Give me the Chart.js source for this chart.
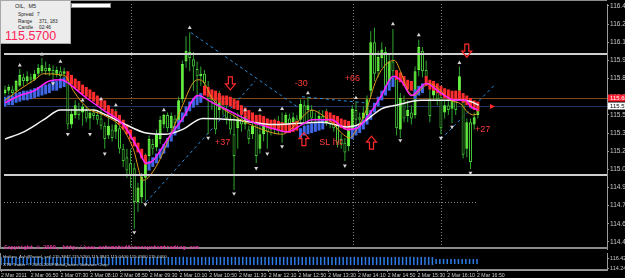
<!DOCTYPE html>
<html>
<head>
<meta charset="utf-8">
<script src="https://cdn.jsdelivr.net/npm/chart.js@4.4.1/dist/chart.umd.min.js"></script>
<style>
html, body { margin: 0; padding: 0; background: #000; }
#wrap { position: relative; width: 625px; height: 278px; overflow: hidden; background: #000; font-family: "Liberation Sans", Arial, sans-serif; }
canvas { position: absolute; left: 0; }
#main { top: 0; }
#panel { top: 253px; }
.info { position: absolute; left: 0; top: 0; width: 69px; height: 42px; background: #ececec; border: 1px solid #a8a8a8; color: #1c1c1c; z-index: 3; }
.info span { position: absolute; white-space: nowrap; font-size: 4.8px; line-height: 5px; }
.info .sym { left: 14px; top: 3px; font-size: 5.5px; }
.info .big { left: 4px; top: 29px; font-size: 12.5px; line-height: 12px; color: #ff2458; }
.bar { position: absolute; left: 71px; top: 3px; width: 38px; height: 3px; background: #fff; border: 1px solid #8a8a8a; z-index: 3; }
.copy { position: absolute; left: 4px; top: 244px; font: bold 5.4px "DejaVu Sans Mono", monospace; color: #e0309a; white-space: nowrap; z-index: 3; }
.ptext { position: absolute; left: 3px; font-size: 4.4px; color: #cfcfcf; white-space: nowrap; z-index: 3; }
</style>
</head>
<body>
<div id="wrap">
  <canvas id="main" width="625" height="253"></canvas>
  <canvas id="panel" width="625" height="25"></canvas>
  <div class="info">
    <span class="sym">OIL,&nbsp; M5</span>
    <span style="left:17px;top:11px">Spread</span><span style="left:36px;top:11px">7</span>
    <span style="left:17px;top:18px">Range</span><span style="left:38px;top:18px">371, 183</span>
    <span style="left:17px;top:24px">Candle</span><span style="left:38px;top:24px">02:46</span>
    <span class="big">115.5700</span>
  </div>
  <div class="bar"></div>
  <div class="copy">Copyright © 2009, http://www.automatedforexsystemtrading.com</div>
  <div class="ptext" style="top:254px">Heiken_Ashi(Period_set) 115.3842 115.5200 115.3842 115.0400 115.0900 115.0400</div>
  <div class="ptext" style="top:262px">XTB Trader: © 2001-2009 MetaQuotes Software Corp.</div>
</div>
<script>
// OIL M5, 2 Mar 2011 - one entry per bar (index 0 = 06:10)
const candleOpen = [
  115.68,115.70,115.71,115.70,115.74,115.81,115.78,115.81,115.79,115.84,
  115.86,115.89,115.86,115.87,115.84,115.86,115.84,115.82,115.42,115.50,
  115.55,115.52,115.54,115.47,115.52,115.50,115.47,115.41,115.33,115.38,
  115.36,115.39,115.22,115.15,115.10,115.06,114.78,114.82,114.98,115.16,
  115.26,115.23,115.30,115.42,115.50,115.39,115.47,115.44,115.63,115.94,
  116.02,115.96,115.88,115.82,115.84,115.70,115.66,115.62,115.54,115.62,
  115.55,115.46,115.34,115.39,115.47,115.42,115.38,115.34,115.46,115.22,
  115.34,115.42,115.38,115.41,115.39,115.44,115.42,115.47,115.44,115.47,
  115.46,115.58,115.54,115.54,115.47,115.46,115.49,115.44,115.47,115.44,
  115.42,115.30,115.27,115.24,115.38,115.54,115.48,115.47,115.50,115.70,
  116.10,115.86,115.97,116.02,115.78,115.94,115.82,115.38,115.62,115.49,
  115.52,115.50,115.87,116.03,115.87,115.63,115.66,115.71,115.65,115.52,
  115.58,115.55,115.62,115.70,115.62,115.22,115.44,115.42,115.50
];
const candleHigh = [
  115.74,115.75,115.74,115.79,115.88,115.84,115.86,115.84,115.87,115.92,
  115.97,115.94,115.92,115.91,115.90,115.90,115.89,115.86,115.55,115.62,
  115.60,115.59,115.57,115.55,115.55,115.54,115.60,115.44,115.49,115.42,
  115.55,115.41,115.26,115.22,115.22,115.10,114.94,115.02,115.18,115.33,
  115.30,115.38,115.49,115.51,115.52,115.52,115.50,115.65,115.95,116.15,
  116.18,116.02,115.94,115.90,115.87,115.78,115.71,115.65,115.70,115.65,
  115.58,115.50,115.51,115.52,115.54,115.50,115.41,115.46,115.49,115.51,
  115.46,115.47,115.44,115.47,115.49,115.52,115.52,115.51,115.52,115.50,
  115.63,115.62,115.65,115.58,115.52,115.54,115.54,115.55,115.50,115.47,
  115.44,115.34,115.31,115.42,115.58,115.61,115.52,115.57,115.66,116.19,
  116.22,116.03,116.10,116.06,116.00,116.21,115.86,115.68,115.66,115.62,
  115.58,115.90,116.12,116.06,115.95,115.74,115.78,115.74,115.68,115.62,
  115.63,115.66,115.70,115.90,115.65,115.47,115.47,115.52,115.58
];
const candleLow = [
  115.66,115.67,115.65,115.68,115.73,115.74,115.76,115.76,115.78,115.82,
  115.84,115.83,115.82,115.79,115.81,115.79,115.81,115.38,115.39,115.47,
  115.46,115.41,115.44,115.38,115.46,115.42,115.38,115.22,115.30,115.28,
  115.30,115.18,115.07,114.98,114.90,114.56,114.70,114.77,114.79,115.12,
  115.17,115.20,115.26,115.39,115.36,115.34,115.41,115.42,115.60,115.89,
  115.86,115.70,115.66,115.74,115.71,115.34,115.54,115.34,115.47,115.50,
  115.42,115.34,114.88,115.22,115.36,115.38,115.26,115.30,115.10,115.18,
  115.28,115.22,115.33,115.34,115.34,115.27,115.38,115.39,115.41,115.39,
  115.42,115.41,115.44,115.44,115.42,115.41,115.41,115.41,115.39,115.36,
  115.23,115.22,115.12,115.20,115.34,115.42,115.41,115.44,115.47,115.65,
  115.78,115.81,115.89,115.70,115.71,115.78,115.33,115.31,115.44,115.44,
  115.42,115.47,115.82,115.81,115.76,115.44,115.62,115.58,115.34,115.47,
  115.50,115.43,115.50,115.62,115.14,115.15,115.05,115.38,115.47
];
const candleClose = [
  115.71,115.73,115.68,115.78,115.83,115.78,115.82,115.79,115.84,115.89,
  115.91,115.86,115.89,115.84,115.87,115.82,115.86,115.42,115.51,115.58,
  115.50,115.57,115.47,115.52,115.49,115.46,115.41,115.30,115.41,115.31,
  115.42,115.22,115.12,115.04,115.00,114.78,114.90,114.99,115.14,115.30,
  115.22,115.34,115.46,115.50,115.39,115.49,115.43,115.62,115.92,116.03,
  115.97,115.90,115.82,115.84,115.76,115.63,115.62,115.38,115.66,115.55,
  115.47,115.38,115.16,115.47,115.42,115.49,115.30,115.41,115.16,115.34,
  115.42,115.36,115.42,115.38,115.44,115.39,115.50,115.42,115.48,115.44,
  115.59,115.43,115.58,115.47,115.46,115.49,115.44,115.50,115.42,115.39,
  115.27,115.26,115.19,115.38,115.55,115.46,115.46,115.52,115.63,116.10,
  115.84,115.98,116.04,115.74,115.94,115.86,115.39,115.64,115.47,115.54,
  115.47,115.86,116.06,115.86,115.81,115.49,115.73,115.63,115.39,115.58,
  115.54,115.62,115.54,115.82,115.17,115.44,115.11,115.48,115.57
];
// smoothed Heiken Ashi bodies
const haOpen = [
  115.57,115.58,115.58,115.60,115.61,115.62,115.62,115.63,115.64,115.65,
  115.66,115.67,115.68,115.70,115.70,115.72,115.73,115.86,115.83,115.80,
  115.78,115.75,115.73,115.71,115.69,115.66,115.64,115.62,115.58,115.55,
  115.53,115.50,115.46,115.42,115.38,115.32,115.27,115.22,115.17,115.04,
  115.07,115.10,115.14,115.18,115.23,115.28,115.33,115.38,115.44,115.49,
  115.53,115.56,115.58,115.60,115.74,115.73,115.71,115.70,115.68,115.66,
  115.66,115.65,115.63,115.62,115.58,115.56,115.54,115.52,115.50,115.50,
  115.49,115.47,115.46,115.46,115.45,115.44,115.43,115.43,115.44,115.45,
  115.31,115.33,115.34,115.35,115.36,115.37,115.38,115.53,115.52,115.50,
  115.49,115.47,115.46,115.45,115.30,115.33,115.35,115.38,115.42,115.46,
  115.52,115.57,115.62,115.66,115.70,115.73,115.87,115.85,115.82,115.79,
  115.78,115.63,115.66,115.68,115.82,115.79,115.78,115.76,115.74,115.72,
  115.71,115.70,115.70,115.70,115.68,115.66,115.64,115.62,115.61
];
const haClose = [
  115.65,115.66,115.66,115.68,115.69,115.70,115.70,115.71,115.72,115.73,
  115.74,115.75,115.76,115.78,115.78,115.80,115.81,115.78,115.75,115.72,
  115.70,115.67,115.65,115.63,115.61,115.58,115.56,115.54,115.50,115.47,
  115.45,115.42,115.38,115.34,115.30,115.24,115.19,115.14,115.09,115.12,
  115.15,115.18,115.22,115.26,115.31,115.36,115.41,115.46,115.52,115.57,
  115.61,115.64,115.66,115.68,115.66,115.65,115.63,115.62,115.60,115.58,
  115.58,115.57,115.55,115.54,115.50,115.48,115.46,115.44,115.42,115.42,
  115.41,115.39,115.38,115.38,115.37,115.36,115.35,115.35,115.36,115.37,
  115.39,115.41,115.42,115.43,115.44,115.45,115.46,115.45,115.44,115.42,
  115.41,115.39,115.38,115.37,115.38,115.41,115.43,115.46,115.50,115.54,
  115.60,115.65,115.70,115.74,115.78,115.81,115.79,115.77,115.74,115.71,
  115.70,115.71,115.74,115.76,115.74,115.71,115.70,115.68,115.66,115.64,
  115.63,115.62,115.62,115.62,115.60,115.58,115.56,115.54,115.53
];
// moving averages, read at bar positions [bar, price]
const whiteMA = [
  [0,115.30],[5.1,115.36],[10.5,115.46],[15,115.54],[24,115.54],[26.6,115.51],[32,115.43],
  [38.2,115.35],[43.6,115.34],[48.1,115.38],[53.5,115.47],[61.6,115.46],[73.1,115.42],
  [85.8,115.44],[92.5,115.40],[96.5,115.43],[99.2,115.49],[101.9,115.55],[105.9,115.58],
  [112.6,115.62],[118,115.62],[123.4,115.62],[126,115.61],[128.2,115.58]
];
const orangeMA = [
  [0,115.62],[4,115.71],[8,115.79],[10.5,115.84],[15.3,115.83],[16.4,115.82],[18.5,115.70],
  [22.6,115.55],[26.6,115.50],[32,115.38],[34.7,115.22],[37.4,114.96],[38.7,114.98],
  [41.4,115.10],[45.4,115.38],[48.1,115.58],[50.8,115.76],[52.2,115.79],[53.5,115.78],
  [56.2,115.63],[61.6,115.50],[69.6,115.38],[75,115.34],[77.7,115.39],[80.4,115.48],
  [83.1,115.54],[85.8,115.50],[88.4,115.44],[91.1,115.35],[93.3,115.31],[95.2,115.38],
  [97.8,115.54],[100.5,115.79],[103.2,115.92],[105.4,115.95],[107.3,115.84],[109.1,115.70],
  [110.8,115.66],[112.6,115.71],[114.8,115.76],[117.5,115.71],[120.7,115.62],[123.4,115.59],
  [125.3,115.52],[126.9,115.50],[128,115.51]
];
const magentaMA = [
  [0,115.60],[4,115.66],[8,115.70],[12,115.78],[15.3,115.79],[17.2,115.76],[21.2,115.66],
  [26.6,115.54],[32,115.42],[36,115.22],[38.2,115.10],[40,115.12],[44,115.30],[48.1,115.47],
  [52.2,115.66],[56.2,115.60],[61.6,115.52],[67,115.44],[72.3,115.39],[76.3,115.36],
  [80.4,115.42],[83.1,115.46],[88.4,115.46],[92.5,115.38],[95.2,115.39],[97.8,115.47],
  [101.9,115.66],[105.1,115.82],[107.3,115.78],[110,115.66],[114,115.76],[118,115.68],
  [122,115.62],[124.7,115.62],[126,115.57],[128,115.54]
];
// fractal markers
const fracUpIdx = [4,10,15,21,26,30,43,50,65,69,75,82,95,105,112,123];
const fracUpPrice = [115.91,116.00,115.94,115.62,115.63,115.58,115.54,116.22,115.54,115.54,115.55,115.68,115.64,116.25,116.16,115.93];
const fracDnIdx = [13,17,23,27,35,38,55,62,68,71,75,92,107,118,121,126];
const fracDnPrice = [115.76,115.34,115.34,115.18,114.53,114.76,115.31,114.85,115.06,115.18,115.24,115.08,115.29,115.31,115.40,115.02];
// separate-window Heiken_Ashi bars
const indTop = [
  116.65,116.62,116.68,116.65,116.63,116.66,116.65,116.60,116.66,116.65,
  116.64,116.67,116.65,116.62,116.65,116.66,116.63,116.65,116.68,116.65,
  116.62,116.65,116.66,116.65,116.63,116.65,116.67,116.64,116.65,116.62,
  116.65,116.66,116.65,116.63,116.68,116.65,116.62,116.65,116.66,116.65,
  116.64,116.65,116.67,116.65,116.62,116.65,116.66,116.63,116.65,116.68,
  116.65,116.62,116.65,116.66,116.65,116.63,116.65,116.67,116.64,116.65,
  116.62,116.65,116.66,116.65,116.63,116.68,116.65,116.62,116.65,116.66,
  116.65,116.64,116.65,116.67,116.65,116.62,116.65,116.66,116.63,116.65,
  116.68,116.65,116.62,116.65,116.66,116.65,116.64,116.65,116.67,116.65,
  116.62,116.65,116.66,116.63,116.65,116.68,116.65,116.62,116.65,116.66,
  116.65,116.64,116.65,116.67,116.65,116.62,116.65,116.66,116.63,116.65,
  116.68,116.65,116.62,116.65,116.66,116.65,116.64,
  116.21,116.19,116.23,116.21,116.20,116.22,116.21,116.19,116.21,116.23,116.20,116.21
];
const indBottom = [
  114.90,114.92,114.88,114.90,114.91,114.89,114.90,114.92,114.88,114.90,
  114.91,114.90,114.89,114.92,114.90,114.88,114.90,114.91,114.90,114.92,
  114.89,114.90,114.88,114.91,114.90,114.92,114.90,114.89,114.90,114.91,
  114.88,114.90,114.92,114.90,114.89,114.91,114.90,114.88,114.90,114.92,
  114.90,114.91,114.89,114.90,114.92,114.88,114.90,114.91,114.90,114.89,
  114.92,114.90,114.88,114.91,114.90,114.92,114.90,114.89,114.90,114.91,
  114.88,114.90,114.92,114.90,114.89,114.91,114.90,114.88,114.90,114.92,
  114.90,114.91,114.89,114.90,114.92,114.88,114.90,114.91,114.90,114.89,
  114.92,114.90,114.88,114.91,114.90,114.92,114.90,114.89,114.90,114.91,
  114.88,114.90,114.92,114.90,114.89,114.91,114.90,114.88,114.90,114.92,
  114.90,114.91,114.89,114.90,114.92,114.88,114.90,114.91,114.90,114.89,
  114.92,114.90,114.88,114.91,114.90,114.92,114.90,
  115.12,115.13,115.11,115.12,115.14,115.12,115.11,115.13,115.12,115.12,115.14,115.12
];
// axes
const timeTickIdx = [0,8,16,24,32,40,48,56,64,72,80,88,96,104,112,120,128];
const timeTickLabels = ['2 Mar 2011','2 Mar 06:50','2 Mar 07:30','2 Mar 08:10','2 Mar 08:50','2 Mar 09:30',
  '2 Mar 10:10','2 Mar 10:50','2 Mar 11:30','2 Mar 12:10','2 Mar 12:50','2 Mar 13:30','2 Mar 14:10',
  '2 Mar 14:50','2 Mar 15:30','2 Mar 16:10','2 Mar 16:50'];
const priceTicks = [116.40,116.25,116.10,115.95,115.80,115.65,115.50,115.35,115.20,115.05,114.90,114.75,114.60,114.45];
const panelTicks = [116.425,114.244];
// chart objects
const levelPrices = [116.00, 115.00];
const askPrice = 115.64;
const bidPrice = 115.57;
const dottedLevel = 114.78;
const dottedLevelEnd = 128;
const vLineIdx = [34.1, 94.1, 118];
const trendLines = [
  [38.2,114.78,67.7,115.78],
  [50.3,116.18,80.4,115.54],
  [80.4,115.65,97.3,115.60],
  [118,115.30,132.3,115.74]
];
const arrowIdx = [61, 125, 80.9, 99.2];
const arrowPrice = [115.76, 116.03, 115.30, 115.27];
const arrowDown = [true, true, false, false];
const noteText = ['+37', '-30', '+66', 'SL hit', '+27'];
const noteIdx = [58.9, 80.2, 94, 88.2, 129.3];
const notePrice = [115.27, 115.76, 115.80, 115.27, 115.38];
const askMarkIdx = 132.1;

const X_MIN = -0.27, X_MAX = 162.95;
const FONT = '"Liberation Sans", Arial, sans-serif';

const idx = candleOpen.map((_, i) => i);
const bull = i => candleClose[i] >= candleOpen[i];
const pts = arr => arr.map(p => ({ x: p[0], y: p[1] }));

function hline(ctx, x0, x1, y) { ctx.beginPath(); ctx.moveTo(x0, y); ctx.lineTo(x1, y); ctx.stroke(); }

const overlay = {
  id: 'overlay',
  beforeDatasetsDraw(chart) {
    const { ctx, chartArea: a, scales: { x, y } } = chart;
    ctx.save();
    ctx.beginPath(); ctx.rect(a.left, a.top, a.right - a.left, a.bottom - a.top); ctx.clip();
    ctx.lineWidth = 1;
    ctx.strokeStyle = '#808080';
    ctx.setLineDash([1, 2]);
    vLineIdx.forEach(v => {
      const px = Math.round(x.getPixelForValue(v)) + 0.5;
      ctx.beginPath(); ctx.moveTo(px, a.top); ctx.lineTo(px, a.bottom); ctx.stroke();
    });
    const yd = Math.round(y.getPixelForValue(dottedLevel)) + 0.5;
    hline(ctx, a.left, x.getPixelForValue(dottedLevelEnd), yd);
    ctx.setLineDash([]);
    ctx.strokeStyle = '#7a4a1c';
    hline(ctx, a.left, a.right, Math.round(y.getPixelForValue(askPrice)) + 0.5);
    ctx.strokeStyle = '#22325e';
    hline(ctx, a.left, a.right, Math.round(y.getPixelForValue(bidPrice)) + 0.5);
    ctx.setLineDash([3, 3]);
    ctx.strokeStyle = '#2a8ad8';
    trendLines.forEach(t => {
      ctx.beginPath();
      ctx.moveTo(x.getPixelForValue(t[0]), y.getPixelForValue(t[1]));
      ctx.lineTo(x.getPixelForValue(t[2]), y.getPixelForValue(t[3]));
      ctx.stroke();
    });
    ctx.restore();
  },
  afterDatasetsDraw(chart) {
    const { ctx, chartArea: a, scales: { x, y } } = chart;
    ctx.save();
    ctx.beginPath(); ctx.rect(a.left, a.top, a.right - a.left, a.bottom - a.top); ctx.clip();
    ctx.fillStyle = '#cfcfcf';
    levelPrices.forEach(p => {
      const py = Math.round(y.getPixelForValue(p));
      ctx.fillRect(a.left, py - 1, a.right - a.left, 2);
    });
    // hollow trade arrows
    ctx.strokeStyle = '#ff2a2a';
    ctx.lineWidth = 1.2;
    const w = 10, h = 13, sw = 4, hh = 6;
    const shape = [[-sw/2,-h/2],[sw/2,-h/2],[sw/2,h/2-hh],[w/2,h/2-hh],[0,h/2],[-w/2,h/2-hh],[-sw/2,h/2-hh]];
    arrowIdx.forEach((v, k) => {
      const cx = x.getPixelForValue(v), cy = y.getPixelForValue(arrowPrice[k]);
      const s = arrowDown[k] ? 1 : -1;
      ctx.beginPath();
      shape.forEach((pt, j) => { const px = cx + pt[0], py = cy + s * pt[1]; j ? ctx.lineTo(px, py) : ctx.moveTo(px, py); });
      ctx.closePath(); ctx.stroke();
    });
    // small red marker at ask
    const mx = x.getPixelForValue(askMarkIdx), my = Math.round(y.getPixelForValue(bidPrice)) + 0.5;
    ctx.fillStyle = '#ff2a2a';
    ctx.beginPath(); ctx.moveTo(mx - 3, my - 2.5); ctx.lineTo(mx + 2, my); ctx.lineTo(mx - 3, my + 2.5); ctx.closePath(); ctx.fill();
    // trade notes
    ctx.font = '9px ' + FONT;
    ctx.textAlign = 'center'; ctx.textBaseline = 'middle';
    ctx.fillStyle = '#ff3b3b';
    noteText.forEach((t, k) => ctx.fillText(t, x.getPixelForValue(noteIdx[k]), y.getPixelForValue(notePrice[k])));
    ctx.restore();
  },
  afterDraw(chart) {
    const { ctx, chartArea: a, scales: { y } } = chart;
    ctx.save();
    ctx.fillStyle = '#8c8c8c';
    ctx.fillRect(0, 0, a.right, 1);
    ctx.fillRect(0, 0, 1, a.bottom);
    ctx.fillRect(0, a.bottom - 2, a.right + 1, 2);
    ctx.font = '6px ' + FONT;
    ctx.textBaseline = 'middle'; ctx.textAlign = 'left';
    [[askPrice, '#ff2030', '#ffffff'], [bidPrice, '#ffffff', '#000000']].forEach(([p, bg, fg]) => {
      const py = Math.round(y.getPixelForValue(p));
      ctx.fillStyle = bg; ctx.fillRect(a.right + 1, py - 3.5, 20, 7);
      ctx.fillStyle = fg; ctx.fillText(p.toFixed(2), a.right + 3, py + 0.5);
    });
    ctx.restore();
  }
};

const panelFrame = {
  id: 'panelFrame',
  afterDraw(chart) {
    const { ctx, chartArea: a } = chart;
    ctx.save();
    ctx.fillStyle = '#8c8c8c';
    ctx.fillRect(0, a.bottom - 1, a.right + 1, 1);
    ctx.fillRect(0, 0, 1, a.bottom);
    ctx.restore();
  }
};

const yAxisFit = s => { s.width = 18; s.paddingTop = 0; s.paddingBottom = 0; };

new Chart(document.getElementById('main'), {
  type: 'bar',
  data: {
    datasets: [
      { label: 'wick', data: idx.map(i => ({ x: i, y: [candleLow[i], candleHigh[i]] })),
        backgroundColor: '#2fa52f', barThickness: 1, order: 10 },
      { label: 'body', data: idx.map(i => ({ x: i, y: [candleOpen[i], candleClose[i]] })),
        backgroundColor: idx.map(i => bull(i) ? '#6dff45' : '#000000'),
        borderColor: idx.map(i => bull(i) ? '#6dff45' : '#45c83a'),
        borderWidth: 1, borderSkipped: false, barThickness: 3, order: 9 },
      { label: 'heiken ashi', data: idx.map(i => ({ x: i, y: [haOpen[i], haClose[i]] })),
        backgroundColor: idx.map(i => haClose[i] >= haOpen[i] ? '#3f67e6' : '#ff2d2d'),
        barThickness: 3, order: 8 },
      { type: 'line', label: 'slow MA', data: pts(whiteMA), borderColor: '#f4f4f4', borderWidth: 1.5,
        pointRadius: 0, cubicInterpolationMode: 'monotone', order: 6 },
      { type: 'line', label: 'fast MA', data: pts(orangeMA), borderColor: '#e09a1c', borderWidth: 1,
        pointRadius: 0, cubicInterpolationMode: 'monotone', order: 5 },
      { type: 'line', label: 'mid MA', data: pts(magentaMA), borderColor: '#ff22ff', borderWidth: 1.5,
        pointRadius: 0, cubicInterpolationMode: 'monotone', order: 4 },
      { type: 'line', label: 'fractal up', showLine: false,
        data: fracUpIdx.map((v, k) => ({ x: v, y: fracUpPrice[k] })),
        pointStyle: 'triangle', pointRadius: 2.3, pointBackgroundColor: '#d6d6d6', pointBorderColor: '#d6d6d6',
        pointBorderWidth: 0, order: 2 },
      { type: 'line', label: 'fractal down', showLine: false,
        data: fracDnIdx.map((v, k) => ({ x: v, y: fracDnPrice[k] })),
        pointStyle: 'triangle', pointRotation: 180, pointRadius: 2.3, pointBackgroundColor: '#d6d6d6',
        pointBorderColor: '#d6d6d6', pointBorderWidth: 0, order: 2 }
    ]
  },
  options: {
    responsive: false, animation: false, maintainAspectRatio: false,
    layout: { padding: 0 },
    datasets: { bar: { grouped: false, inflateAmount: 0 } },
    plugins: { legend: { display: false }, tooltip: { enabled: false } },
    scales: {
      x: { type: 'linear', min: X_MIN, max: X_MAX, offset: false, display: false },
      y: {
        type: 'linear', position: 'right', min: 114.392, max: 116.416,
        afterFit: yAxisFit,
        afterBuildTicks: s => { s.ticks = priceTicks.map(v => ({ value: v })); },
        ticks: { callback: v => v.toFixed(2), color: '#c8c8c8', font: { family: FONT, size: 6.5 }, padding: 1 },
        grid: { drawOnChartArea: false, tickLength: 2, color: '#9a9a9a' },
        border: { color: '#9a9a9a' }
      }
    }
  },
  plugins: [overlay]
});

new Chart(document.getElementById('panel'), {
  type: 'bar',
  data: {
    datasets: [
      { label: 'Heiken_Ashi', data: idx.map(i => ({ x: i, y: [indBottom[i], indTop[i]] })),
        backgroundColor: '#2b7de9', barThickness: 1.5 }
    ]
  },
  options: {
    responsive: false, animation: false, maintainAspectRatio: false,
    layout: { padding: 0 },
    datasets: { bar: { grouped: false, inflateAmount: 0 } },
    plugins: { legend: { display: false }, tooltip: { enabled: false } },
    scales: {
      x: {
        type: 'linear', min: X_MIN, max: X_MAX, offset: false,
        afterFit: s => { s.height = 8; s.paddingLeft = 0; s.paddingRight = 0; },
        afterBuildTicks: s => { s.ticks = timeTickIdx.map(v => ({ value: v })); },
        ticks: { callback: v => timeTickLabels[timeTickIdx.indexOf(v)], align: 'start', autoSkip: false,
          maxRotation: 0, minRotation: 0, padding: 0, color: '#c8c8c8', font: { family: FONT, size: 5.2 } },
        grid: { drawOnChartArea: false, offset: false, tickLength: 2, color: '#9a9a9a' },
        border: { color: '#9a9a9a' }
      },
      y: {
        type: 'linear', position: 'right', min: 113.81, max: 117.52,
        afterFit: yAxisFit,
        afterBuildTicks: s => { s.ticks = panelTicks.map(v => ({ value: v })); },
        ticks: { callback: v => v.toFixed(3), color: '#c8c8c8', font: { family: FONT, size: 5.5 }, padding: 1 },
        grid: { drawOnChartArea: false, tickLength: 2, color: '#9a9a9a' },
        border: { color: '#9a9a9a' }
      }
    }
  },
  plugins: [panelFrame]
});
</script>
</body>
</html>
